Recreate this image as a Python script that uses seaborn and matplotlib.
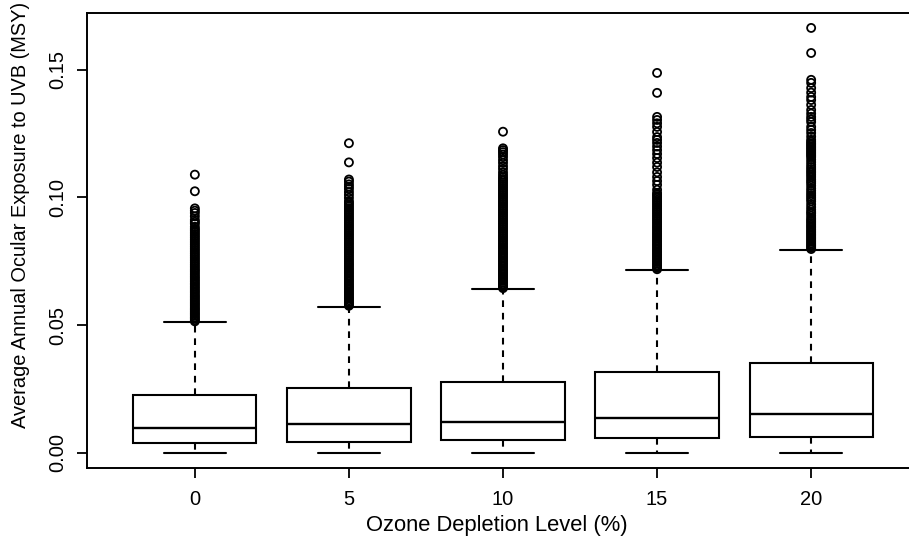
import pandas as pd
import matplotlib
matplotlib.use("Agg")
import matplotlib.pyplot as plt
import seaborn as sns

# Ozone depletion levels (x categories)
levels = ["0", "5", "10", "15", "20"]

# Box summaries (MSY)
whisker_low = [0.0, 0.0, 0.0, 0.0, 0.0]
q1 = [0.0039, 0.0043, 0.0051, 0.0059, 0.0063]
median = [0.0098, 0.0113, 0.0121, 0.0137, 0.0153]
q3 = [0.0227, 0.0254, 0.0278, 0.0317, 0.0352]
whisker_high = [0.0512, 0.0572, 0.0641, 0.0715, 0.0794]

# Outliers above the upper whisker (the dense stacks are listed tightly)
outliers_0 = [0.0515, 0.0520, 0.0526, 0.0531, 0.0537, 0.0543, 0.0548, 0.0554, 0.0560, 0.0565,
              0.0571, 0.0577, 0.0583, 0.0589, 0.0595, 0.0601, 0.0607, 0.0613, 0.0619, 0.0626,
              0.0632, 0.0638, 0.0645, 0.0651, 0.0658, 0.0664, 0.0671, 0.0677, 0.0684, 0.0690,
              0.0697, 0.0704, 0.0711, 0.0717, 0.0724, 0.0731, 0.0738, 0.0745, 0.0752, 0.0759,
              0.0766, 0.0773, 0.0780, 0.0787, 0.0794, 0.0801, 0.0808, 0.0815, 0.0822, 0.0829,
              0.0836, 0.0843, 0.0850, 0.0857, 0.0864, 0.0871, 0.0877,
              0.0885, 0.0897, 0.0904, 0.0912, 0.0926, 0.0939, 0.0948, 0.0957, 0.1024, 0.1089]
outliers_5 = [0.0576, 0.0581, 0.0587, 0.0592, 0.0598, 0.0604, 0.0609, 0.0615, 0.0621, 0.0627,
              0.0633, 0.0639, 0.0645, 0.0651, 0.0657, 0.0663, 0.0670, 0.0676, 0.0682, 0.0689,
              0.0695, 0.0702, 0.0708, 0.0715, 0.0721, 0.0728, 0.0735, 0.0741, 0.0748, 0.0755,
              0.0762, 0.0769, 0.0776, 0.0783, 0.0790, 0.0797, 0.0804, 0.0811, 0.0818, 0.0825,
              0.0832, 0.0839, 0.0846, 0.0853, 0.0860, 0.0867, 0.0874, 0.0881, 0.0888, 0.0895,
              0.0902, 0.0909, 0.0916, 0.0923, 0.0930, 0.0937, 0.0944, 0.0951, 0.0958, 0.0965,
              0.0972, 0.0979, 0.0985,
              0.0998, 0.1010, 0.1021, 0.1033, 0.1042, 0.1051, 0.1062, 0.1070, 0.1137, 0.1212]
outliers_10 = [0.0645, 0.0650, 0.0656, 0.0661, 0.0667, 0.0673, 0.0679, 0.0685, 0.0691, 0.0697,
               0.0703, 0.0709, 0.0715, 0.0721, 0.0728, 0.0734, 0.0740, 0.0747, 0.0753, 0.0760,
               0.0766, 0.0773, 0.0779, 0.0786, 0.0793, 0.0800, 0.0806, 0.0813, 0.0820, 0.0827,
               0.0834, 0.0841, 0.0848, 0.0855, 0.0862, 0.0869, 0.0876, 0.0883, 0.0890, 0.0897,
               0.0904, 0.0911, 0.0918, 0.0925, 0.0932, 0.0939, 0.0946, 0.0953, 0.0960, 0.0967,
               0.0974, 0.0981, 0.0988, 0.0995, 0.1002, 0.1009, 0.1016, 0.1023, 0.1030, 0.1037,
               0.1044, 0.1051, 0.1058, 0.1065, 0.1072, 0.1079,
               0.1088, 0.1098, 0.1111, 0.1122, 0.1135, 0.1146, 0.1158, 0.1168, 0.1177, 0.1185,
               0.1192, 0.1257]
outliers_15 = [0.0719, 0.0724, 0.0730, 0.0735, 0.0741, 0.0747, 0.0753, 0.0759, 0.0765, 0.0771,
               0.0777, 0.0783, 0.0789, 0.0795, 0.0801, 0.0808, 0.0814, 0.0820, 0.0827, 0.0833,
               0.0840, 0.0846, 0.0853, 0.0859, 0.0866, 0.0873, 0.0880, 0.0886, 0.0893, 0.0900,
               0.0907, 0.0914, 0.0921, 0.0928, 0.0935, 0.0942, 0.0949, 0.0956, 0.0963, 0.0970,
               0.0977, 0.0984, 0.0991, 0.0998, 0.1005, 0.1011, 0.1017,
               0.1030, 0.1049, 0.1064, 0.1080, 0.1098, 0.1119, 0.1136, 0.1154, 0.1170, 0.1185,
               0.1199, 0.1213, 0.1225, 0.1236, 0.1256, 0.1276, 0.1290, 0.1303, 0.1315, 0.1409,
               0.1487]
outliers_20 = [0.0798, 0.0803, 0.0809, 0.0814, 0.0820, 0.0826, 0.0832, 0.0838, 0.0844, 0.0850,
               0.0856, 0.0862, 0.0868, 0.0874, 0.0881, 0.0887, 0.0893, 0.0900, 0.0906, 0.0912,
               0.0919, 0.0928, 0.0937, 0.0943, 0.0952, 0.0962, 0.0973, 0.0985, 0.0993, 0.1001,
               0.1009, 0.1017, 0.1026, 0.1035, 0.1046, 0.1056, 0.1063, 0.1071, 0.1080, 0.1088,
               0.1096, 0.1103, 0.1111, 0.1119, 0.1128, 0.1138, 0.1148, 0.1158,
               0.1164, 0.1170, 0.1176, 0.1182, 0.1188, 0.1194, 0.1200, 0.1206, 0.1212, 0.1218,
               0.1225, 0.1238, 0.1252, 0.1264, 0.1276, 0.1295, 0.1305, 0.1315, 0.1328, 0.1342,
               0.1362, 0.1381, 0.1393, 0.1410, 0.1428, 0.1448, 0.1460, 0.1565, 0.1663]
outliers = [outliers_0, outliers_5, outliers_10, outliers_15, outliers_20]

# Long tables for seaborn: five-number summary per level, whiskers at min/max
box_rows = []
for i, lvl in enumerate(levels):
    for v in (whisker_low[i], q1[i], median[i], q3[i], whisker_high[i]):
        box_rows.append({"level": lvl, "value": v})
box_df = pd.DataFrame(box_rows)

out_rows = []
for lvl, vals in zip(levels, outliers):
    for v in vals:
        out_rows.append({"level": lvl, "value": v})
out_df = pd.DataFrame(out_rows)

sns.set_style("ticks", {"axes.edgecolor": "black", "xtick.color": "black",
                        "ytick.color": "black", "text.color": "black",
                        "axes.labelcolor": "black"})
plt.rcParams["font.family"] = ["Liberation Sans", "DejaVu Sans"]

fig = plt.figure(figsize=(9.09, 5.44), dpi=100)
ax = fig.add_axes([87 / 909, 1 - 468 / 544, (919 - 87) / 909, (468 - 12.5) / 544])

sns.boxplot(data=box_df, x="level", y="value", order=levels, whis=(0, 100),
            width=0.8, color="white", saturation=1, linecolor="black", linewidth=1.5,
            whiskerprops={"linestyle": (0, (3.2, 2.8))},
            medianprops={"linewidth": 1.7}, ax=ax)
sns.stripplot(data=out_df, x="level", y="value", order=levels, jitter=False,
              color="black", edgecolor="black", size=5.8, linewidth=1.3, ax=ax)
for coll in ax.collections:
    coll.set_facecolor("none")
    coll.set_edgecolor("black")

ax.set_xlim(-0.7, 4.7)
ax.set_ylim(-0.00587, 0.17234)
ax.set_yticks([0.0, 0.05, 0.10, 0.15])
ax.set_yticklabels(["0.00", "0.05", "0.10", "0.15"], rotation=90, va="center")
for sp in ax.spines.values():
    sp.set_linewidth(1.4)
ax.tick_params(length=7, width=1.3, pad=7, labelsize=14.5)
ax.tick_params(axis="x", pad=8.5)
ax.set_xlabel("Ozone Depletion Level (%)", fontsize=15.8)
ax.set_ylabel("Average Annual Ocular Exposure to UVB (MSY)", fontsize=14.4)
ax.xaxis.set_label_coords(0.493, -0.103)
ax.yaxis.set_label_coords(-0.0685, 0.555)

fig.savefig("out.png", dpi=100)
